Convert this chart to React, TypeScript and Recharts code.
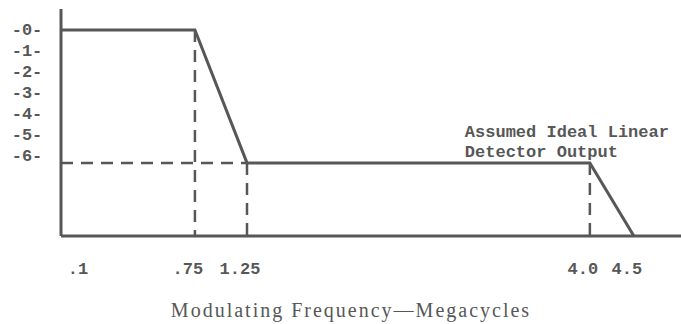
import React from "react";
import {
  LineChart,
  Line,
  XAxis,
  YAxis,
  ReferenceLine,
  ReferenceDot,
  Label,
} from "recharts";

// response of the assumed ideal linear detector vs modulating frequency
const frequencies = [0.1, 0.75, 1.25, 4.0, 4.5];
const outputLevels = [0, 0, -6, -6, -9.3];
const xTicks = [0.1, 0.75, 1.25, 4.0, 4.5];
const xTickLabels = [".1", ".75", "1.25", "4.0", "4.5"];
const yTicks = [0, -1, -2, -3, -4, -5, -6];
const annotation = ["Assumed Ideal Linear", "Detector Output"];
const xTitle = "Modulating Frequency\u2014Megacycles";

const Y_DOMAIN = [-9.3, 0.95];
const X_DOMAIN = [0.1, 5.0];

// the drawing is not to scale: the axis is stretched piecewise between the marked frequencies
const breakFreqs = [0.1, 0.75, 1.25, 4.0, 4.5, 5.0];
const breakFracs = [0, 0.216, 0.3, 0.853, 0.924, 1];

const INK = "#575757";
const MONO = "'Liberation Mono', 'DejaVu Sans Mono', monospace";

function interp(v: number, from: number[], to: number[]) {
  const n = from.length;
  let i = 0;
  if (v >= from[n - 2]) i = n - 2;
  else while (i < n - 2 && v > from[i + 1]) i++;
  const t = (v - from[i]) / (from[i + 1] - from[i]);
  return to[i] + t * (to[i + 1] - to[i]);
}

function schematicScale(): any {
  let domain = [0, 1];
  let range = [0, 1];
  const span = () => {
    const f0 = interp(domain[0], breakFreqs, breakFracs);
    const f1 = interp(domain[1], breakFreqs, breakFracs);
    return [f0, f1 - f0 || 1];
  };
  const scale: any = (v: number) => {
    const [f0, df] = span();
    const t = (interp(Number(v), breakFreqs, breakFracs) - f0) / df;
    return range[0] + t * (range[1] - range[0]);
  };
  scale.domain = (d?: any[]) => {
    if (d === undefined) return domain;
    domain = d.map(Number);
    return scale;
  };
  scale.range = (r?: any[]) => {
    if (r === undefined) return range;
    range = r.map(Number);
    return scale;
  };
  scale.invert = (px: number) => {
    const [f0, df] = span();
    const t = (px - range[0]) / (range[1] - range[0] || 1);
    return interp(f0 + t * df, breakFracs, breakFreqs);
  };
  scale.copy = () => schematicScale().domain(domain).range(range);
  scale.ticks = () => xTicks.filter((t) => t >= domain[0] && t <= domain[1]);
  scale.tickFormat = () => (v: number) => String(v);
  scale.nice = () => scale;
  scale.clamp = () => scale;
  return scale;
}

const data = frequencies.map((f, i) => ({ f, level: outputLevels[i] }));

const XTick = (props: any) => {
  const { x, y, payload, index } = props;
  const i = xTicks.indexOf(payload.value);
  const dx = index === 0 ? 17 : -7;
  return (
    <text
      x={x + dx}
      y={y + 25}
      textAnchor="middle"
      dominantBaseline="central"
      fontFamily={MONO}
      fontWeight="bold"
      fontSize={17}
      fill={INK}
    >
      {xTickLabels[i]}
    </text>
  );
};

const YTick = (props: any) => {
  const { y, payload } = props;
  return (
    <text
      x={27}
      y={y + payload.value}
      textAnchor="middle"
      dominantBaseline="central"
      fontFamily={MONO}
      fontWeight="bold"
      fontSize={17}
      fill={INK}
    >
      {`-${Math.abs(payload.value)}-`}
    </text>
  );
};

const Annotation = (props: any) => {
  const vb = props.viewBox || {};
  return (
    <g>
      {annotation.map((line, i) => (
        <text
          key={line}
          x={vb.x - 125}
          y={vb.y - 30 + i * 20}
          dominantBaseline="central"
          fontFamily={MONO}
          fontWeight="bold"
          fontSize={17}
          fill={INK}
        >
          {line}
        </text>
      ))}
    </g>
  );
};

const dash = { stroke: INK, strokeWidth: 2.5, strokeDasharray: "12 8" };

export default function App() {
  const yMin = Y_DOMAIN[0];
  return (
    <div style={{ position: "absolute", left: 0, top: 0, background: "#fff" }}>
      <LineChart
        width={681}
        height={324}
        data={data}
        margin={{ top: 9, right: 0, left: 0, bottom: 0 }}
      >
        <XAxis
          dataKey="f"
          type="number"
          scale={schematicScale()}
          domain={X_DOMAIN}
          ticks={xTicks}
          interval={0}
          tick={<XTick />}
          tickLine={false}
          axisLine={{ stroke: INK, strokeWidth: 3 }}
          height={88}
          allowDataOverflow
        >
          <Label
            content={(p: any) => {
              const vb = p.viewBox;
              return (
                <text
                  x={vb.x + vb.width / 2 - 20}
                  y={vb.y + vb.height - 7}
                  textAnchor="middle"
                  fontFamily="'Liberation Serif', serif"
                  fontSize={20}
                  letterSpacing={2}
                  fill={INK}
                >
                  {xTitle}
                </text>
              );
            }}
          />
        </XAxis>
        <YAxis
          type="number"
          domain={Y_DOMAIN}
          ticks={yTicks}
          interval={0}
          tick={<YTick />}
          tickLine={false}
          axisLine={{ stroke: INK, strokeWidth: 3 }}
          width={61}
          allowDataOverflow
        />
        {/* dashed construction lines */}
        <ReferenceLine
          segment={[
            { x: frequencies[0], y: outputLevels[2] },
            { x: frequencies[2], y: outputLevels[2] },
          ]}
          ifOverflow="visible"
          {...dash}
        />
        {[1, 2, 3].map((i) => (
          <ReferenceLine
            key={i}
            segment={[
              { x: frequencies[i], y: outputLevels[i] },
              { x: frequencies[i], y: yMin },
            ]}
            ifOverflow="visible"
            {...dash}
          />
        ))}
        <Line
          type="linear"
          dataKey="level"
          stroke={INK}
          strokeWidth={3}
          dot={false}
          activeDot={false}
          isAnimationActive={false}
        />
        <ReferenceDot
          x={frequencies[3]}
          y={outputLevels[3]}
          r={0}
          fill="none"
          stroke="none"
          ifOverflow="visible"
          label={<Annotation />}
        />
      </LineChart>
    </div>
  );
}
